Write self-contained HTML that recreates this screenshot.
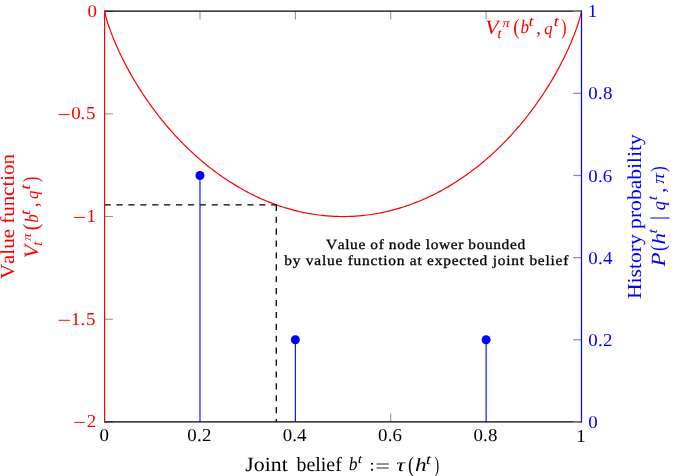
<!DOCTYPE html>
<html><head><meta charset="utf-8"><style>
html,body{margin:0;padding:0;background:#fff;}
svg{display:block;font-family:"Liberation Serif", serif;font-kerning:none;will-change:transform;text-rendering:geometricPrecision;}
</style></head><body>
<svg width="685" height="476" viewBox="0 0 685 476">
<line x1="104.6" y1="11.20" x2="112.89999999999999" y2="11.20" stroke="#8c8c8c" stroke-width="1"/>
<line x1="104.6" y1="113.88" x2="112.89999999999999" y2="113.88" stroke="#8c8c8c" stroke-width="1"/>
<line x1="104.6" y1="216.55" x2="112.89999999999999" y2="216.55" stroke="#8c8c8c" stroke-width="1"/>
<line x1="104.6" y1="319.22" x2="112.89999999999999" y2="319.22" stroke="#8c8c8c" stroke-width="1"/>
<line x1="104.6" y1="421.90" x2="112.89999999999999" y2="421.90" stroke="#8c8c8c" stroke-width="1"/>
<line x1="104.60" y1="421.9" x2="104.60" y2="413.59999999999997" stroke="#8c8c8c" stroke-width="1"/>
<line x1="104.60" y1="11.2" x2="104.60" y2="19.5" stroke="#8c8c8c" stroke-width="1"/>
<line x1="199.98" y1="11.2" x2="199.98" y2="19.5" stroke="#8c8c8c" stroke-width="1"/>
<line x1="295.36" y1="11.2" x2="295.36" y2="19.5" stroke="#8c8c8c" stroke-width="1"/>
<line x1="390.74" y1="421.9" x2="390.74" y2="413.59999999999997" stroke="#8c8c8c" stroke-width="1"/>
<line x1="390.74" y1="11.2" x2="390.74" y2="19.5" stroke="#8c8c8c" stroke-width="1"/>
<line x1="486.12" y1="11.2" x2="486.12" y2="19.5" stroke="#8c8c8c" stroke-width="1"/>
<line x1="581.50" y1="421.9" x2="581.50" y2="413.59999999999997" stroke="#8c8c8c" stroke-width="1"/>
<line x1="581.50" y1="11.2" x2="581.50" y2="19.5" stroke="#8c8c8c" stroke-width="1"/>
<path d="M104.60,11.20 L104.61,11.26 L104.63,11.40 L104.67,11.61 L104.72,11.88 L104.78,12.21 L104.86,12.60 L104.96,13.03 L105.07,13.52 L105.20,14.04 L105.34,14.61 L105.49,15.22 L105.66,15.87 L105.84,16.56 L106.04,17.28 L106.25,18.04 L106.48,18.83 L106.72,19.65 L106.98,20.51 L107.25,21.39 L107.54,22.30 L107.84,23.24 L108.15,24.21 L108.48,25.20 L108.82,26.21 L109.18,27.25 L109.55,28.32 L109.94,29.40 L110.34,30.51 L110.76,31.64 L111.19,32.79 L111.63,33.96 L112.09,35.15 L112.56,36.35 L113.05,37.58 L113.55,38.82 L114.07,40.08 L114.60,41.35 L115.14,42.64 L115.70,43.94 L116.27,45.26 L116.86,46.59 L117.46,47.94 L118.07,49.29 L118.70,50.66 L119.34,52.05 L119.99,53.44 L120.66,54.84 L121.34,56.26 L122.04,57.68 L122.75,59.11 L123.47,60.56 L124.21,62.01 L124.96,63.47 L125.73,64.93 L126.50,66.41 L127.29,67.89 L128.10,69.38 L128.92,70.87 L129.75,72.37 L130.59,73.87 L131.45,75.38 L132.32,76.90 L133.20,78.42 L134.09,79.94 L135.00,81.46 L135.92,82.99 L136.86,84.52 L137.81,86.06 L138.77,87.59 L139.74,89.13 L140.72,90.67 L141.72,92.21 L142.73,93.75 L143.75,95.30 L144.79,96.84 L145.83,98.38 L146.89,99.92 L147.96,101.46 L149.05,103.00 L150.14,104.54 L151.25,106.08 L152.37,107.61 L153.50,109.14 L154.64,110.67 L155.79,112.20 L156.96,113.72 L158.13,115.25 L159.32,116.76 L160.52,118.28 L161.73,119.78 L162.95,121.29 L164.19,122.79 L165.43,124.28 L166.68,125.77 L167.95,127.26 L169.23,128.74 L170.51,130.21 L171.81,131.68 L173.12,133.14 L174.44,134.59 L175.77,136.04 L177.11,137.48 L178.46,138.91 L179.82,140.33 L181.19,141.75 L182.57,143.16 L183.96,144.56 L185.36,145.95 L186.77,147.33 L188.19,148.71 L189.62,150.07 L191.06,151.43 L192.50,152.78 L193.96,154.11 L195.43,155.44 L196.90,156.76 L198.39,158.07 L199.88,159.36 L201.38,160.65 L202.89,161.92 L204.41,163.19 L205.94,164.44 L207.48,165.68 L209.02,166.91 L210.57,168.13 L212.14,169.33 L213.70,170.53 L215.28,171.71 L216.87,172.88 L218.46,174.03 L220.06,175.18 L221.67,176.31 L223.28,177.43 L224.91,178.53 L226.54,179.62 L228.18,180.70 L229.82,181.76 L231.47,182.81 L233.13,183.85 L234.80,184.87 L236.47,185.88 L238.15,186.88 L239.83,187.85 L241.52,188.82 L243.22,189.77 L244.92,190.70 L246.63,191.62 L248.35,192.53 L250.07,193.42 L251.80,194.29 L253.53,195.15 L255.27,196.00 L257.01,196.82 L258.76,197.64 L260.52,198.43 L262.28,199.21 L264.04,199.98 L265.81,200.72 L267.59,201.46 L269.36,202.17 L271.15,202.87 L272.94,203.55 L274.73,204.22 L276.52,204.87 L278.33,205.50 L280.13,206.11 L281.94,206.71 L283.75,207.29 L285.57,207.86 L287.38,208.40 L289.21,208.93 L291.03,209.44 L292.86,209.94 L294.70,210.42 L296.53,210.88 L298.37,211.32 L300.21,211.74 L302.05,212.15 L303.90,212.54 L305.75,212.91 L307.60,213.26 L309.45,213.60 L311.31,213.92 L313.16,214.22 L315.02,214.50 L316.88,214.76 L318.75,215.01 L320.61,215.24 L322.48,215.45 L324.34,215.64 L326.21,215.81 L328.08,215.97 L329.95,216.10 L331.82,216.22 L333.69,216.32 L335.56,216.40 L337.43,216.47 L339.30,216.51 L341.18,216.54 L343.05,216.55 L344.92,216.54 L346.80,216.51 L348.67,216.47 L350.54,216.40 L352.41,216.32 L354.28,216.22 L356.15,216.10 L358.02,215.97 L359.89,215.81 L361.76,215.64 L363.62,215.45 L365.49,215.24 L367.35,215.01 L369.22,214.76 L371.08,214.50 L372.94,214.22 L374.79,213.92 L376.65,213.60 L378.50,213.26 L380.35,212.91 L382.20,212.54 L384.05,212.15 L385.89,211.74 L387.73,211.32 L389.57,210.88 L391.40,210.42 L393.24,209.94 L395.07,209.44 L396.89,208.93 L398.72,208.40 L400.53,207.86 L402.35,207.29 L404.16,206.71 L405.97,206.11 L407.77,205.50 L409.58,204.87 L411.37,204.22 L413.16,203.55 L414.95,202.87 L416.74,202.17 L418.51,201.46 L420.29,200.72 L422.06,199.98 L423.82,199.21 L425.58,198.43 L427.34,197.64 L429.09,196.82 L430.83,196.00 L432.57,195.15 L434.30,194.29 L436.03,193.42 L437.75,192.53 L439.47,191.62 L441.18,190.70 L442.88,189.77 L444.58,188.82 L446.27,187.85 L447.95,186.88 L449.63,185.88 L451.30,184.87 L452.97,183.85 L454.63,182.81 L456.28,181.76 L457.92,180.70 L459.56,179.62 L461.19,178.53 L462.82,177.43 L464.43,176.31 L466.04,175.18 L467.64,174.03 L469.23,172.88 L470.82,171.71 L472.40,170.53 L473.96,169.33 L475.53,168.13 L477.08,166.91 L478.62,165.68 L480.16,164.44 L481.69,163.19 L483.21,161.92 L484.72,160.65 L486.22,159.36 L487.71,158.07 L489.20,156.76 L490.67,155.44 L492.14,154.11 L493.60,152.78 L495.04,151.43 L496.48,150.07 L497.91,148.71 L499.33,147.33 L500.74,145.95 L502.14,144.56 L503.53,143.16 L504.91,141.75 L506.28,140.33 L507.64,138.91 L508.99,137.48 L510.33,136.04 L511.66,134.59 L512.98,133.14 L514.29,131.68 L515.59,130.21 L516.87,128.74 L518.15,127.26 L519.42,125.77 L520.67,124.28 L521.91,122.79 L523.15,121.29 L524.37,119.78 L525.58,118.28 L526.78,116.76 L527.97,115.25 L529.14,113.72 L530.31,112.20 L531.46,110.67 L532.60,109.14 L533.73,107.61 L534.85,106.08 L535.96,104.54 L537.05,103.00 L538.14,101.46 L539.21,99.92 L540.27,98.38 L541.31,96.84 L542.35,95.30 L543.37,93.75 L544.38,92.21 L545.38,90.67 L546.36,89.13 L547.33,87.59 L548.29,86.06 L549.24,84.52 L550.18,82.99 L551.10,81.46 L552.01,79.94 L552.90,78.42 L553.78,76.90 L554.65,75.38 L555.51,73.87 L556.35,72.37 L557.18,70.87 L558.00,69.38 L558.81,67.89 L559.60,66.41 L560.37,64.93 L561.14,63.47 L561.89,62.01 L562.63,60.56 L563.35,59.11 L564.06,57.68 L564.76,56.26 L565.44,54.84 L566.11,53.44 L566.76,52.05 L567.40,50.66 L568.03,49.29 L568.64,47.94 L569.24,46.59 L569.83,45.26 L570.40,43.94 L570.96,42.64 L571.50,41.35 L572.03,40.08 L572.55,38.82 L573.05,37.58 L573.54,36.35 L574.01,35.15 L574.47,33.96 L574.91,32.79 L575.34,31.64 L575.76,30.51 L576.16,29.40 L576.55,28.32 L576.92,27.25 L577.28,26.21 L577.62,25.20 L577.95,24.21 L578.26,23.24 L578.56,22.30 L578.85,21.39 L579.12,20.51 L579.38,19.65 L579.62,18.83 L579.85,18.04 L580.06,17.28 L580.26,16.56 L580.44,15.87 L580.61,15.22 L580.76,14.61 L580.90,14.04 L581.03,13.52 L581.14,13.03 L581.24,12.60 L581.32,12.21 L581.38,11.88 L581.43,11.61 L581.47,11.40 L581.49,11.26 L581.50,11.20" fill="none" stroke="#ff0000" stroke-width="1.2" stroke-linejoin="round"/>
<line x1="104.6" y1="204.78" x2="276.28" y2="204.78" stroke="#000" stroke-width="1.3" stroke-dasharray="6.15 5.75"/>
<line x1="276.28" y1="204.78" x2="276.28" y2="421.9" stroke="#000" stroke-width="1.3" stroke-dasharray="6.15 5.75"/>
<line x1="104.0" y1="11.2" x2="581.5" y2="11.2" stroke="#000" stroke-width="1.2"/>
<line x1="104.0" y1="421.9" x2="581.5" y2="421.9" stroke="#000" stroke-width="1.2"/>
<line x1="104.6" y1="10.6" x2="104.6" y2="422.5" stroke="#ff0000" stroke-width="1.2"/>
<line x1="581.5" y1="421.90" x2="573.2" y2="421.90" stroke="#8c8c8c" stroke-width="1.2"/>
<line x1="581.5" y1="339.76" x2="573.2" y2="339.76" stroke="#8c8c8c" stroke-width="1.2"/>
<line x1="581.5" y1="257.62" x2="573.2" y2="257.62" stroke="#8c8c8c" stroke-width="1.2"/>
<line x1="581.5" y1="175.48" x2="573.2" y2="175.48" stroke="#8c8c8c" stroke-width="1.2"/>
<line x1="581.5" y1="93.34" x2="573.2" y2="93.34" stroke="#8c8c8c" stroke-width="1.2"/>
<line x1="581.5" y1="11.20" x2="573.2" y2="11.20" stroke="#8c8c8c" stroke-width="1.2"/>
<line x1="199.98" y1="421.9" x2="199.98" y2="175.48" stroke="#0000ff" stroke-width="1.1"/>
<circle cx="199.98" cy="175.48" r="4.5" fill="#0000ff"/>
<line x1="295.36" y1="421.9" x2="295.36" y2="339.76" stroke="#0000ff" stroke-width="1.1"/>
<circle cx="295.36" cy="339.76" r="4.5" fill="#0000ff"/>
<line x1="486.12" y1="421.9" x2="486.12" y2="339.76" stroke="#0000ff" stroke-width="1.1"/>
<circle cx="486.12" cy="339.76" r="4.5" fill="#0000ff"/>
<line x1="581.5" y1="10.6" x2="581.5" y2="422.5" stroke="#0000ff" stroke-width="1.2"/>
<text x="87.57" y="16.80" font-size="18.2" fill="#ff0000" textLength="9.46" lengthAdjust="spacingAndGlyphs">0</text>
<rect x="58.60" y="114.12" width="11.20" height="0.95" fill="#ff0000"/>
<text x="71.17" y="119.20" font-size="18.2" fill="#ff0000" textLength="9.46" lengthAdjust="spacingAndGlyphs">0</text>
<text x="80.63" y="119.20" font-size="18.2" fill="#ff0000" textLength="4.73" lengthAdjust="spacingAndGlyphs">.</text>
<text x="86.04" y="119.20" font-size="18.2" fill="#ff0000" textLength="9.46" lengthAdjust="spacingAndGlyphs">5</text>
<rect x="74.10" y="216.93" width="11.00" height="0.95" fill="#ff0000"/>
<text x="86.55" y="221.90" font-size="18.2" fill="#ff0000" textLength="9.46" lengthAdjust="spacingAndGlyphs">1</text>
<rect x="58.60" y="319.82" width="11.20" height="0.95" fill="#ff0000"/>
<text x="70.95" y="324.90" font-size="18.2" fill="#ff0000" textLength="9.46" lengthAdjust="spacingAndGlyphs">1</text>
<text x="80.63" y="324.90" font-size="18.2" fill="#ff0000" textLength="4.73" lengthAdjust="spacingAndGlyphs">.</text>
<text x="86.04" y="324.90" font-size="18.2" fill="#ff0000" textLength="9.46" lengthAdjust="spacingAndGlyphs">5</text>
<rect x="74.20" y="421.92" width="10.70" height="0.95" fill="#ff0000"/>
<text x="86.77" y="426.90" font-size="18.2" fill="#ff0000" textLength="9.46" lengthAdjust="spacingAndGlyphs">2</text>
<text x="587.85" y="17.30" font-size="18.2" fill="#0000ff" textLength="9.46" lengthAdjust="spacingAndGlyphs">1</text>
<text x="588.27" y="99.30" font-size="18.2" fill="#0000ff" textLength="9.46" lengthAdjust="spacingAndGlyphs">0</text>
<text x="597.98" y="99.30" font-size="18.2" fill="#0000ff" textLength="4.73" lengthAdjust="spacingAndGlyphs">.</text>
<text x="603.02" y="99.30" font-size="18.2" fill="#0000ff" textLength="9.46" lengthAdjust="spacingAndGlyphs">8</text>
<text x="588.27" y="181.50" font-size="18.2" fill="#0000ff" textLength="9.46" lengthAdjust="spacingAndGlyphs">0</text>
<text x="597.98" y="181.50" font-size="18.2" fill="#0000ff" textLength="4.73" lengthAdjust="spacingAndGlyphs">.</text>
<text x="602.89" y="181.50" font-size="18.2" fill="#0000ff" textLength="9.46" lengthAdjust="spacingAndGlyphs">6</text>
<text x="588.27" y="263.50" font-size="18.2" fill="#0000ff" textLength="9.46" lengthAdjust="spacingAndGlyphs">0</text>
<text x="597.98" y="263.50" font-size="18.2" fill="#0000ff" textLength="4.73" lengthAdjust="spacingAndGlyphs">.</text>
<text x="602.98" y="263.50" font-size="18.2" fill="#0000ff" textLength="9.46" lengthAdjust="spacingAndGlyphs">4</text>
<text x="588.27" y="346.10" font-size="18.2" fill="#0000ff" textLength="9.46" lengthAdjust="spacingAndGlyphs">0</text>
<text x="597.98" y="346.10" font-size="18.2" fill="#0000ff" textLength="4.73" lengthAdjust="spacingAndGlyphs">.</text>
<text x="603.12" y="346.10" font-size="18.2" fill="#0000ff" textLength="9.46" lengthAdjust="spacingAndGlyphs">2</text>
<text x="588.37" y="428.40" font-size="18.2" fill="#0000ff" textLength="9.46" lengthAdjust="spacingAndGlyphs">0</text>
<text x="99.62" y="441.40" font-size="18.2" fill="#000000" textLength="9.46" lengthAdjust="spacingAndGlyphs">0</text>
<text x="187.35" y="441.30" font-size="18.2" fill="#000000" textLength="9.46" lengthAdjust="spacingAndGlyphs">0</text>
<text x="196.91" y="441.30" font-size="18.2" fill="#000000" textLength="4.73" lengthAdjust="spacingAndGlyphs">.</text>
<text x="201.90" y="441.30" font-size="18.2" fill="#000000" textLength="9.46" lengthAdjust="spacingAndGlyphs">2</text>
<text x="282.73" y="441.30" font-size="18.2" fill="#000000" textLength="9.46" lengthAdjust="spacingAndGlyphs">0</text>
<text x="292.29" y="441.30" font-size="18.2" fill="#000000" textLength="4.73" lengthAdjust="spacingAndGlyphs">.</text>
<text x="297.14" y="441.30" font-size="18.2" fill="#000000" textLength="9.46" lengthAdjust="spacingAndGlyphs">4</text>
<text x="378.11" y="441.30" font-size="18.2" fill="#000000" textLength="9.46" lengthAdjust="spacingAndGlyphs">0</text>
<text x="387.67" y="441.30" font-size="18.2" fill="#000000" textLength="4.73" lengthAdjust="spacingAndGlyphs">.</text>
<text x="392.43" y="441.30" font-size="18.2" fill="#000000" textLength="9.46" lengthAdjust="spacingAndGlyphs">6</text>
<text x="473.49" y="441.30" font-size="18.2" fill="#000000" textLength="9.46" lengthAdjust="spacingAndGlyphs">0</text>
<text x="483.05" y="441.30" font-size="18.2" fill="#000000" textLength="4.73" lengthAdjust="spacingAndGlyphs">.</text>
<text x="487.94" y="441.30" font-size="18.2" fill="#000000" textLength="9.46" lengthAdjust="spacingAndGlyphs">8</text>
<text x="576.15" y="441.70" font-size="18.2" fill="#000000" textLength="9.46" lengthAdjust="spacingAndGlyphs">1</text>
<text x="485.16" y="33.89" font-size="20.45" font-style="italic" fill="#ff0000" textLength="13.34" lengthAdjust="spacingAndGlyphs">V</text>
<text x="497.29" y="38.36" font-size="14.32" font-style="italic" fill="#ff0000" textLength="4.49" lengthAdjust="spacingAndGlyphs">t</text>
<text x="502.32" y="26.68" font-size="12.37" font-style="italic" fill="#ff0000" textLength="7.63" lengthAdjust="spacingAndGlyphs">π</text>
<text x="513.16" y="34.07" font-size="21.73" fill="#ff0000" textLength="6.35" lengthAdjust="spacingAndGlyphs">(</text>
<text x="520.57" y="33.41" font-size="19.04" font-style="italic" fill="#ff0000" textLength="8.55" lengthAdjust="spacingAndGlyphs">b</text>
<text x="528.40" y="26.36" font-size="14.49" font-style="italic" fill="#ff0000" textLength="5.03" lengthAdjust="spacingAndGlyphs">t</text>
<text x="536.21" y="34.23" font-size="20.64" fill="#ff0000" textLength="4.53" lengthAdjust="spacingAndGlyphs">,</text>
<text x="544.35" y="33.76" font-size="17.10" font-style="italic" fill="#ff0000" textLength="8.35" lengthAdjust="spacingAndGlyphs">q</text>
<text x="553.55" y="26.36" font-size="14.49" font-style="italic" fill="#ff0000" textLength="5.36" lengthAdjust="spacingAndGlyphs">t</text>
<text x="561.29" y="34.07" font-size="21.73" fill="#ff0000" textLength="5.32" lengthAdjust="spacingAndGlyphs">)</text>
<g transform="translate(0,300) rotate(-90)"><text x="20.96" y="13.90" font-size="19.8" fill="#ff0000" textLength="125.05" lengthAdjust="spacingAndGlyphs" >Value function</text><text x="41.86" y="37.99" font-size="20.45" font-style="italic" fill="#ff0000" textLength="13.34" lengthAdjust="spacingAndGlyphs">V</text><text x="53.99" y="42.46" font-size="14.32" font-style="italic" fill="#ff0000" textLength="4.49" lengthAdjust="spacingAndGlyphs">t</text><text x="59.02" y="30.78" font-size="12.37" font-style="italic" fill="#ff0000" textLength="7.63" lengthAdjust="spacingAndGlyphs">π</text><text x="69.86" y="38.17" font-size="21.73" fill="#ff0000" textLength="6.35" lengthAdjust="spacingAndGlyphs">(</text><text x="77.27" y="37.51" font-size="19.04" font-style="italic" fill="#ff0000" textLength="8.55" lengthAdjust="spacingAndGlyphs">b</text><text x="85.10" y="30.46" font-size="14.49" font-style="italic" fill="#ff0000" textLength="5.03" lengthAdjust="spacingAndGlyphs">t</text><text x="92.91" y="38.33" font-size="20.64" fill="#ff0000" textLength="4.53" lengthAdjust="spacingAndGlyphs">,</text><text x="101.05" y="37.86" font-size="17.10" font-style="italic" fill="#ff0000" textLength="8.35" lengthAdjust="spacingAndGlyphs">q</text><text x="110.25" y="30.46" font-size="14.49" font-style="italic" fill="#ff0000" textLength="5.36" lengthAdjust="spacingAndGlyphs">t</text><text x="117.99" y="38.17" font-size="21.73" fill="#ff0000" textLength="5.32" lengthAdjust="spacingAndGlyphs">)</text></g>
<g transform="translate(0,300) rotate(-90)"><text x="0.93" y="641.00" font-size="19.8" fill="#0000ff" textLength="164.96" lengthAdjust="spacingAndGlyphs" >History probability</text><text x="33.42" y="665.00" font-size="20.16" font-style="italic" fill="#0000ff" textLength="14.16" lengthAdjust="spacingAndGlyphs">P</text><text x="48.93" y="664.72" font-size="21.06" fill="#0000ff" textLength="5.83" lengthAdjust="spacingAndGlyphs">(</text><text x="55.56" y="664.80" font-size="18.59" font-style="italic" fill="#0000ff" textLength="11.60" lengthAdjust="spacingAndGlyphs">h</text><text x="66.49" y="657.17" font-size="13.62" font-style="italic" fill="#0000ff" textLength="4.49" lengthAdjust="spacingAndGlyphs">t</text><text x="89.89" y="664.98" font-size="18.42" font-style="italic" fill="#0000ff" textLength="9.25" lengthAdjust="spacingAndGlyphs">q</text><text x="99.83" y="657.07" font-size="13.79" font-style="italic" fill="#0000ff" textLength="4.54" lengthAdjust="spacingAndGlyphs">t</text><text x="107.36" y="665.37" font-size="21.03" fill="#0000ff" textLength="4.87" lengthAdjust="spacingAndGlyphs">,</text><text x="116.19" y="664.43" font-size="17.49" font-style="italic" fill="#0000ff" textLength="10.43" lengthAdjust="spacingAndGlyphs">π</text><text x="127.94" y="664.81" font-size="20.62" fill="#0000ff" textLength="5.83" lengthAdjust="spacingAndGlyphs">)</text><rect x="81.50" y="650.30" width="1" height="19.30" fill="#0000ff"/></g>
<text x="245.34" y="471.40" font-size="20.2" fill="#000000" textLength="42.39" lengthAdjust="spacingAndGlyphs" >Joint</text>
<text x="296.50" y="471.40" font-size="20.2" fill="#000000" textLength="45.30" lengthAdjust="spacingAndGlyphs" >belief</text>
<text x="348.66" y="470.32" font-size="18.76" font-style="italic" fill="#000000" textLength="8.67" lengthAdjust="spacingAndGlyphs">b</text>
<text x="357.81" y="462.98" font-size="12.57" font-style="italic" fill="#000000" textLength="4.38" lengthAdjust="spacingAndGlyphs">t</text>
<circle cx="372.0" cy="463.75" r="1.1" fill="#000"/>
<circle cx="372.0" cy="469.8" r="1.1" fill="#000"/>
<rect x="376.50" y="463.57" width="12.25" height="0.85" fill="#000000"/>
<rect x="376.50" y="467.57" width="12.25" height="0.85" fill="#000000"/>
<text x="396.37" y="470.52" font-size="18.77" font-style="italic" fill="#000000" textLength="8.60" lengthAdjust="spacingAndGlyphs">τ</text>
<text x="408.10" y="471.71" font-size="22.50" fill="#000000" textLength="6.09" lengthAdjust="spacingAndGlyphs">(</text>
<text x="414.96" y="470.50" font-size="18.88" font-style="italic" fill="#000000" textLength="11.60" lengthAdjust="spacingAndGlyphs">h</text>
<text x="425.75" y="463.56" font-size="14.14" font-style="italic" fill="#000000" textLength="5.36" lengthAdjust="spacingAndGlyphs">t</text>
<text x="434.55" y="471.71" font-size="22.50" fill="#000000" textLength="4.67" lengthAdjust="spacingAndGlyphs">)</text>
<text transform="translate(326.20,249.00) scale(1.1,1)" x="-0.16" y="0" font-size="14.0" fill="#000000" letter-spacing="0.560" stroke="#000" stroke-width="0.3">Value of node lower bounded</text>
<text transform="translate(284.30,265.00) scale(1.1,1)" x="-0.00" y="0" font-size="14.0" fill="#000000" letter-spacing="0.703" stroke="#000" stroke-width="0.3">by value function at expected joint belief</text>
</svg></body></html>
